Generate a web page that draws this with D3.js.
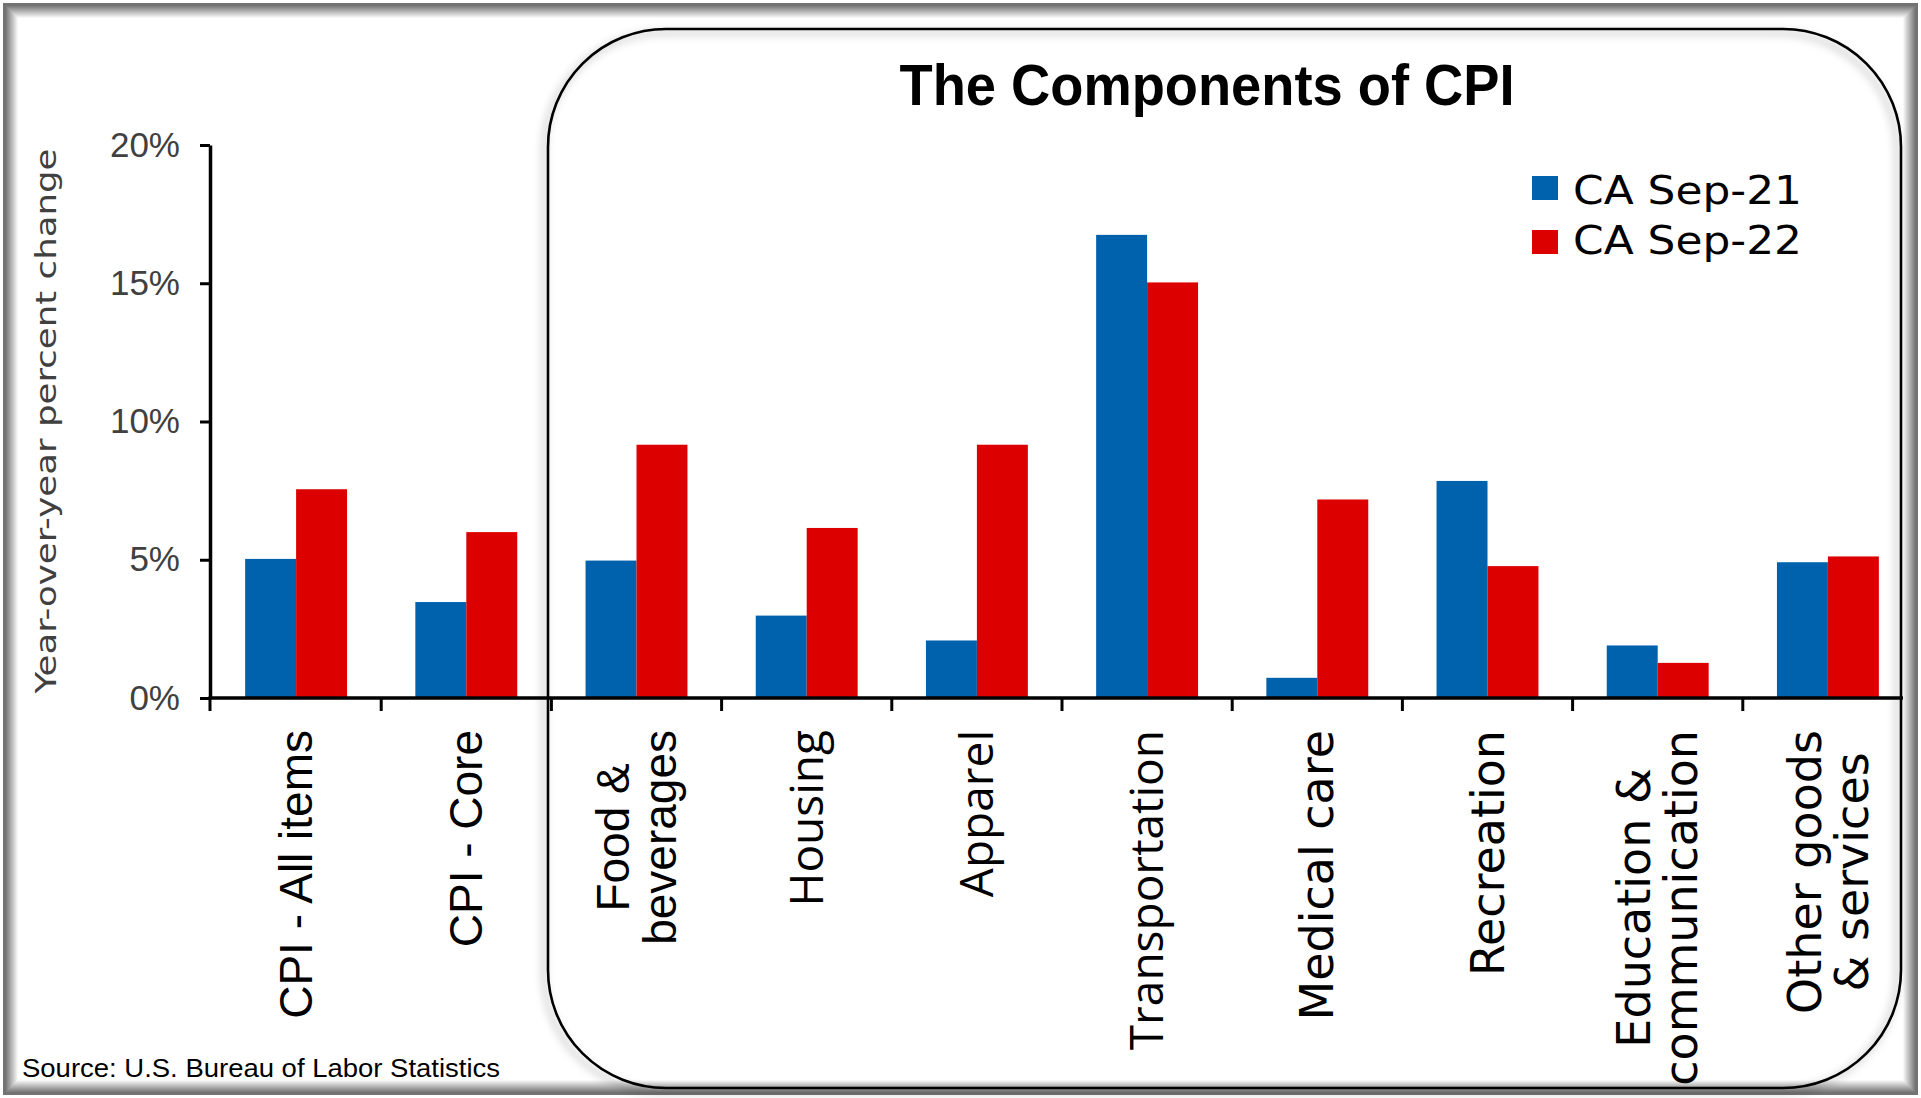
<!DOCTYPE html>
<html><head><meta charset="utf-8">
<script src="https://cdn.jsdelivr.net/npm/d3@7"></script>
<style>
  html,body{margin:0;padding:0;background:#fff;}
  svg{display:block;}
</style></head>
<body>
<svg id="chart" width="1921" height="1098"></svg>
<script>
// ---------------- DATA ----------------
const categories = ["CPI - All items","CPI - Core","Food & beverages","Housing","Apparel","Transportation","Medical care","Recreation","Education & communication","Other goods & services"];
const categoryLines = [["CPI - All items"],["CPI - Core"],["Food &","beverages"],["Housing"],["Apparel"],["Transportation"],["Medical care"],["Recreation"],["Education &","communication"],["Other goods","& services"]];
const seriesNames = ["CA Sep-21","CA Sep-22"];
const sep21 = [5.03, 3.47, 4.97, 2.98, 2.08, 16.75, 0.73, 7.85, 1.90, 4.91];
const sep22 = [7.55, 6.00, 9.16, 6.15, 9.16, 15.03, 7.18, 4.77, 1.27, 5.12];
const yTickValues = [0, 5, 10, 15, 20];
const titleText = "The Components of CPI";
const yAxisTitle = "Year-over-year percent change";
const sourceText = "Source: U.S. Bureau of Labor Statistics";

// ---------------- STYLE ----------------
const W = 1921, H = 1098;
const colors = {"CA Sep-21": "#0061ac", "CA Sep-22": "#dd0000"};
const gothic = "'DejaVu Sans', 'Noto Sans', sans-serif";
const arial = "'Liberation Sans', Arial, sans-serif";
const segoe = "'Open Sans', 'Noto Sans', sans-serif";
const labelFont = i => i < 3 ? arial : (i < 6 ? segoe : gothic);

const svg = d3.select("#chart");

// Outer bevel frame
const frame = svg.append("g");
for (let i = 0; i < 16; i++) {
  const g = i < 3 ? 115 : Math.min(255, 115 + (i - 2) * 11);
  frame.append("rect")
    .attr("x", 3.5 + i).attr("y", 3.5 + i)
    .attr("width", W - 7 - 2 * i).attr("height", H - 7 - 2 * i)
    .attr("fill", "none")
    .attr("stroke", d3.rgb(g, g, g))
    .attr("stroke-width", 1);
}

// Rounded box with soft shadow
const defs = svg.append("defs");
const f = defs.append("filter").attr("id", "shadow").attr("x", "-5%").attr("y", "-5%").attr("width", "110%").attr("height", "110%");
f.append("feDropShadow").attr("dx", -4).attr("dy", 4).attr("stdDeviation", 4)
  .attr("flood-color", "#000").attr("flood-opacity", 0.35);
svg.append("rect")
  .attr("x", 548).attr("y", 29).attr("width", 1901 - 548).attr("height", 1088 - 29)
  .attr("rx", 118).attr("ry", 118)
  .attr("fill", "none").attr("stroke", "#000").attr("stroke-width", 2.6)
  .attr("filter", "url(#shadow)");

// ---------------- SCALES ----------------
const x0 = d3.scaleBand().domain(categories).range([211, 1913]).paddingInner(0).paddingOuter(0);
const x1 = d3.scaleBand().domain(seriesNames).range([0, x0.bandwidth()]).paddingInner(0).paddingOuter(0.67);
const y = d3.scaleLinear().domain([0, 20]).range([698, 145]);

// ---------------- BARS ----------------
const rows = categories.map((c, i) => ({cat: c, vals: [
  {s: seriesNames[0], v: sep21[i]}, {s: seriesNames[1], v: sep22[i]}]}));
const gBars = svg.append("g");
gBars.selectAll("g").data(rows).join("g")
  .attr("transform", d => `translate(${x0(d.cat)},0)`)
  .selectAll("rect").data(d => d.vals).join("rect")
  .attr("x", d => x1(d.s))
  .attr("width", x1.bandwidth())
  .attr("y", d => y(d.v))
  .attr("height", d => y(0) - y(d.v))
  .attr("fill", d => colors[d.s]);

// ---------------- Y AXIS ----------------
const yAxis = svg.append("g").attr("transform", "translate(210,0)")
  .call(d3.axisLeft(y).tickValues(yTickValues).tickFormat(d => d + "%").tickSize(10).tickPadding(20).tickSizeOuter(0));
yAxis.select(".domain").attr("stroke", "#000").attr("stroke-width", 3.5);
yAxis.selectAll(".tick line").attr("stroke", "#000").attr("stroke-width", 3);
yAxis.selectAll(".tick text").attr("font-family", arial).attr("font-size", 35).attr("fill", "#404040");

// ---------------- X AXIS ----------------
const xAxisG = svg.append("g");
const xEnd = 1903;
xAxisG.append("line")
  .attr("x1", 208.5).attr("x2", xEnd).attr("y1", y(0)).attr("y2", y(0))
  .attr("stroke", "#000").attr("stroke-width", 3.5);
const boundaries = categories.map(c => x0(c)).filter(v => v < xEnd);
xAxisG.selectAll("line.tk").data(boundaries).join("line").attr("class", "tk")
  .attr("x1", (d, i) => i === 0 ? 210 : d).attr("x2", (d, i) => i === 0 ? 210 : d)
  .attr("y1", y(0)).attr("y2", y(0) + 13)
  .attr("stroke", "#000").attr("stroke-width", 3);

// Category labels (rotated, top aligned under the axis, lines centred)
const labelTop = 730, lineH = 47, labelSize = 46;
categoryLines.forEach((lines, i) => {
  const cx = x0(categories[i]) + x0.bandwidth() / 2;
  const g = svg.append("g");
  const texts = lines.map((ln, j) => g.append("text")
    .attr("font-family", labelFont(i)).attr("font-size", labelSize).attr("fill", "#000")
    .attr("text-anchor", "middle").attr("dy", "0.35em").text(ln));
  const maxLen = d3.max(texts, t => t.node().getComputedTextLength());
  texts.forEach((t, j) => {
    const lx = cx + (j - (lines.length - 1) / 2) * lineH;
    const ly = labelTop + maxLen / 2;
    t.attr("transform", `translate(${lx},${ly}) rotate(-90)`);
  });
});

// Y axis title
svg.append("text")
  .attr("transform", "translate(46,421) rotate(-90)")
  .attr("text-anchor", "middle").attr("dy", "0.35em")
  .attr("font-family", gothic).attr("font-size", 29).attr("fill", "#404040")
  .attr("textLength", 545).attr("lengthAdjust", "spacingAndGlyphs")
  .text(yAxisTitle);

// Title
svg.append("text")
  .attr("x", 1207).attr("y", 105).attr("text-anchor", "middle")
  .attr("font-family", arial).attr("font-weight", "bold").attr("font-size", 57)
  .attr("textLength", 615).attr("lengthAdjust", "spacingAndGlyphs")
  .text(titleText);

// Legend
const legend = svg.append("g");
seriesNames.forEach((s, i) => {
  legend.append("rect").attr("x", 1532).attr("y", 176 + i * 54).attr("width", 26).attr("height", 24).attr("fill", colors[s]);
  legend.append("text").attr("x", 1573).attr("y", 204 + i * 50)
    .attr("font-family", gothic).attr("font-size", 39).attr("fill", "#000")
    .attr("textLength", 229).attr("lengthAdjust", "spacingAndGlyphs")
    .text(s);
});

// Source
svg.append("text").attr("x", 22).attr("y", 1077)
  .attr("font-family", "'Liberation Sans Narrow', 'Liberation Sans', Arial, sans-serif")
  .attr("font-size", 26).attr("fill", "#000")
  .attr("textLength", 478).attr("lengthAdjust", "spacingAndGlyphs")
  .text(sourceText);
</script>
</body></html>
